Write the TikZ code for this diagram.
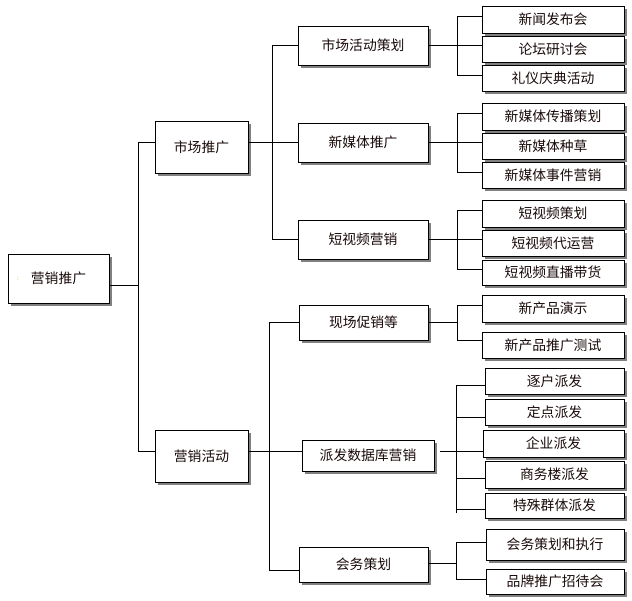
\documentclass[tikz,border=0pt]{standalone}
\usepackage{fontspec}
\setmainfont{Noto Sans CJK SC}
\usetikzlibrary{shadows}
\definecolor{shadowgray}{HTML}{808080}
\definecolor{inkcol}{HTML}{1A0A0A}
\definecolor{dotorange}{HTML}{E08000}
\tikzset{
  box/.style={draw=black, line width=0.9pt, fill=white, inner sep=0pt, outer sep=0pt,
    drop shadow={shadow xshift=3pt, shadow yshift=-3pt, fill=shadowgray, opacity=1},
    font=\fontsize{13.8}{15}\selectfont, text=inkcol},
  conn/.style={line width=0.9pt, draw=black},
}
\newcommand\mybox[6]{\node[box, minimum width={(#4-#2)*1pt}, minimum height={(#5-#3)*1pt}]
  (#1) at ({(#2+#4)/2},{(#3+#5)/2}) {\raisebox{-1pt}{#6}};}
\begin{document}
\begin{tikzpicture}[x=1pt,y=-1pt]
\useasboundingbox (0,0) rectangle (632,601);
% boxes
\mybox{root}{8}{254}{109}{303}{营销推广}
\mybox{A}{155}{121}{248}{173}{市场推广}
\mybox{B}{155}{430}{248}{482}{营销活动}
\mybox{A1}{298}{26}{428}{65}{市场活动策划}
\mybox{A2}{298}{123}{428}{162}{新媒体推广}
\mybox{A3}{298}{220}{428}{259}{短视频营销}
\mybox{B1}{299}{305}{428}{340}{现场促销等}
\mybox{B2}{302}{440}{434}{471}{派发数据库营销}
\mybox{B3}{299}{547}{428}{582}{会务策划}
\mybox{A1a}{482}{6}{624}{33}{新闻发布会}
\mybox{A1b}{482}{36}{624}{62}{论坛研讨会}
\mybox{A1c}{482}{65}{624}{91}{礼仪庆典活动}
\mybox{A2a}{482}{103}{624}{130}{新媒体传播策划}
\mybox{A2b}{482}{133}{624}{159}{新媒体种草}
\mybox{A2c}{482}{162}{624}{188}{新媒体事件营销}
\mybox{A3a}{482}{200}{624}{227}{短视频策划}
\mybox{A3b}{482}{230}{624}{256}{短视频代运营}
\mybox{A3c}{482}{260}{624}{285}{短视频直播带货}
\mybox{B1a}{482}{295}{624}{322}{新产品演示}
\mybox{B1b}{482}{332}{624}{358}{新产品推广测试}
\mybox{B2a}{485}{368}{624}{394}{逐户派发}
\mybox{B2b}{485}{399}{624}{425}{定点派发}
\mybox{B2c}{483}{430}{624}{457}{企业派发}
\mybox{B2d}{485}{461}{624}{488}{商务楼派发}
\mybox{B2e}{485}{493}{624}{518}{特殊群体派发}
\mybox{B3a}{486}{529}{624}{560}{会务策划和执行}
\mybox{B3b}{486}{569}{624}{594}{品牌推广招待会}
\node[text=dotorange, font=\fontsize{6}{6}\selectfont, inner sep=0pt] (mark) at (18,279) {:};
% root group
\coordinate (r0) at (138,285); \coordinate (r1) at (138,142); \coordinate (r2) at (138,451);
\draw[conn] (root.east|-r0) -- (r0);
\draw[conn] (r1) -- (r2);
\draw[conn] (r1) -- (A.west|-r1);
\draw[conn] (r2) -- (B.west|-r2);
% A group
\coordinate (a0) at (272,142); \coordinate (a1) at (272,45); \coordinate (a3) at (272,239);
\draw[conn] (A.east|-a0) -- (A2.west|-a0);
\draw[conn] (a1) -- (a3);
\draw[conn] (a1) -- (A1.west|-a1);
\draw[conn] (a3) -- (A3.west|-a3);
% B group
\coordinate (b0) at (269,451); \coordinate (b1) at (269,322); \coordinate (b3) at (269,570);
\draw[conn] (B.east|-b0) -- (B2.west|-b0);
\draw[conn] (b1) -- (b3);
\draw[conn] (b1) -- (B1.west|-b1);
\draw[conn] (b3) -- (B3.west|-b3);
% A1 group
\coordinate (p0) at (457,45); \coordinate (p1) at (457,16); \coordinate (p3) at (457,75);
\draw[conn] (A1.east|-p0) -- (A1b.west|-p0);
\draw[conn] (p1) -- (p3);
\draw[conn] (p1) -- (A1a.west|-p1);
\draw[conn] (p3) -- (A1c.west|-p3);
% A2 group
\coordinate (q0) at (457,142); \coordinate (q1) at (457,113); \coordinate (q3) at (457,172);
\draw[conn] (A2.east|-q0) -- (A2b.west|-q0);
\draw[conn] (q1) -- (q3);
\draw[conn] (q1) -- (A2a.west|-q1);
\draw[conn] (q3) -- (A2c.west|-q3);
% A3 group
\coordinate (u0) at (457,239); \coordinate (u1) at (457,210); \coordinate (u3) at (457,269);
\draw[conn] (A3.east|-u0) -- (A3b.west|-u0);
\draw[conn] (u1) -- (u3);
\draw[conn] (u1) -- (A3a.west|-u1);
\draw[conn] (u3) -- (A3c.west|-u3);
% B1 group
\coordinate (v0) at (457,322); \coordinate (v1) at (457,305); \coordinate (v2) at (457,340);
\draw[conn] (B1.east|-v0) -- (v0);
\draw[conn] (v1) -- (v2);
\draw[conn] (v1) -- (B1a.west|-v1);
\draw[conn] (v2) -- (B1b.west|-v2);
% B2 group
\coordinate (s0) at (440,451); \coordinate (sT) at (456,385); \coordinate (sB) at (456,513);
\coordinate (s1) at (456,385); \coordinate (s2) at (456,417); \coordinate (s4) at (456,478); \coordinate (s5) at (456,509);
\draw[conn] (s0) -- (B2c.west|-s0);
\draw[conn] (sT) -- (sB);
\draw[conn] (s1) -- (B2a.west|-s1);
\draw[conn] (s2) -- (B2b.west|-s2);
\draw[conn] (s4) -- (B2d.west|-s4);
\draw[conn] (s5) -- (B2e.west|-s5);
% B3 group
\coordinate (w0) at (456,563); \coordinate (w1) at (456,542); \coordinate (w2) at (456,579);
\draw[conn] (B3.east|-w0) -- (w0);
\draw[conn] (w1) -- (w2);
\draw[conn] (w1) -- (B3a.west|-w1);
\draw[conn] (w2) -- (B3b.west|-w2);
\end{tikzpicture}
\end{document}
